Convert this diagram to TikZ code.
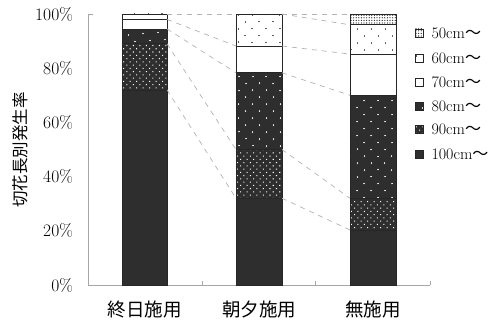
\documentclass[tikz,border=0pt]{standalone}
\usepackage{fontspec}
\newfontfamily\jp{Noto Sans CJK JP}
\usetikzlibrary{patterns.meta, positioning}

\begin{document}
\begin{tikzpicture}[x=1pt, y=1pt]
        % Setup the styles for the bar segments
        \tikzset{seg style/.style={draw=black!85, line width=0.7pt},
                 len100/.style={seg style, fill=black!82},
                 len90/.style={seg style, preaction={fill=black!82},
                               pattern={Dots[distance=4.6pt, radius=0.75pt, angle=45]},
                               pattern color=white},
                 len80/.style={seg style, preaction={fill=black!82},
                               pattern={Dots[distance=10.5pt, radius=0.85pt, angle=45]},
                               pattern color=white},
                 len70/.style={seg style, fill=white},
                 len60/.style={seg style, preaction={fill=white},
                               pattern={Dots[distance=10.5pt, radius=0.75pt, angle=45]},
                               pattern color=black!85},
                 len50/.style={seg style, preaction={fill=white},
                               pattern={Dots[distance=2.6pt, radius=0.65pt]},
                               pattern color=black!85},
                 link/.style={draw=black!30, line width=0.7pt, dash pattern=on 5pt off 5pt},
                 tick label/.style={font=\fontsize{17.5}{17.5}\selectfont, anchor=east, inner sep=0pt},
                 cat label/.style={font=\jp\fontsize{18.5}{18.5}\selectfont},
                 key box/.style={minimum size=8pt, inner sep=0pt},
                 key label/.style={font=\fontsize{16}{16}\selectfont, anchor=west, inner sep=0pt}}

        \useasboundingbox (0,0) rectangle (499,322);

        % Axes
        \draw[black!35, line width=0.7pt] (88,308) -- (88,37) -- (430,37);
        \draw[black!35, line width=0.7pt] (88,308) -- (93,308);
        \foreach \x in {202, 315, 430}
            \draw[black!35, line width=0.7pt] (\x,37) -- (\x,41);

        \begin{scope}[yshift=37pt, y=2.71pt]
        % Tick labels
        \foreach \p in {0, 20, ..., 100}
            \node[tick label] (tick\p) at (73,\p) {\p\%};

        % Draw the bars
        \foreach \lo/\hi/\st in {0/72/len100, 72/89/len90, 89/94.5/len80,
                                 94.5/98/len70, 98/100/len60}
            \draw[\st] (122,\lo) rectangle (167,\hi);
        \foreach \lo/\hi/\st in {0/32/len100, 32/50/len90, 50/78.3/len80,
                                 78.3/88.2/len70, 88.2/100/len60}
            \draw[\st] (236,\lo) rectangle (282,\hi);
        \foreach \lo/\hi/\st in {0/20.3/len100, 20.3/32/len90, 32/70/len80,
                                 70/85.2/len70, 85.2/96/len60, 96/100/len50}
            \draw[\st] (350,\lo) rectangle (396,\hi);

        % Boundaries of the classes on each bar
        \foreach \y [count=\i] in {72, 89, 94.5, 98, 100, 100}
            \coordinate (a\i) at (167,\y);
        \foreach \y [count=\i] in {32, 50, 78.3, 88.2, 100, 100}
        {
            \coordinate (bl\i) at (236,\y);
            \coordinate (br\i) at (282,\y);
        }
        \foreach \y [count=\i] in {20.3, 32, 70, 85.2, 96, 100}
            \coordinate (c\i) at (350,\y);

        % Connect the boundaries
        \foreach \i in {1, ..., 6}
        {
            \draw[link] (a\i) -- (bl\i);
            \draw[link] (br\i) -- (c\i);
        }
        \end{scope}

        % Category labels
        \node[cat label] (all) at (144.5,12) {終日施用};
        \node[cat label] (morn) at (259,12) {朝夕施用};
        \node[cat label] (none) at (373,12) {無施用};

        % Axis title
        \node[font=\jp\fontsize{16.5}{16.5}\selectfont, rotate=90] (ytitle) at (20,172) {切花長別発生率};

        % Legend
        \foreach \c/\y in {50/289, 60/264, 70/240, 80/216, 90/193, 100/168}
        {
            \node[key box, len\c] (key\c) at (419,\y) {};
            \node[key label, right=8pt of key\c.east, anchor=west] (lab\c) {\c cm{\jp 〜}};
        }
\end{tikzpicture}
\end{document}
